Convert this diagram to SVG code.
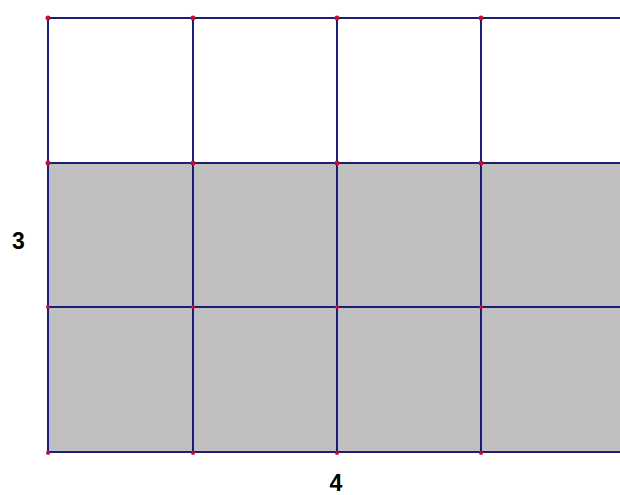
<svg xmlns="http://www.w3.org/2000/svg" width="620" height="495" viewBox="0 0 620 495">
<style>
.ln{stroke:#1c1c7a;stroke-width:2;fill:none}
.dot{fill:#c8102e}
.lbl{font-family:"Liberation Sans",Arial,sans-serif;font-weight:bold;font-size:23px;fill:#000}
</style>
<rect x="0" y="0" width="620" height="495" fill="#fff"/>
<g id="shaded">
<rect x="48" y="163" width="572" height="289" fill="#c0c0c0"/>
</g>
<g id="grid">
<line class="ln" x1="48" y1="18" x2="620" y2="18"/>
<line class="ln" x1="48" y1="163" x2="620" y2="163"/>
<line class="ln" x1="48" y1="307" x2="620" y2="307"/>
<line class="ln" x1="48" y1="452" x2="620" y2="452"/>
<line class="ln" x1="48" y1="18" x2="48" y2="452"/>
<line class="ln" x1="193" y1="18" x2="193" y2="452"/>
<line class="ln" x1="337" y1="18" x2="337" y2="452"/>
<line class="ln" x1="481" y1="18" x2="481" y2="452"/>
</g>
<g id="points">
<circle class="dot" cx="48" cy="18" r="2.5"/><circle class="dot" cx="193" cy="18" r="2.5"/><circle class="dot" cx="337" cy="18" r="2.5"/><circle class="dot" cx="481" cy="18" r="2.5"/>
<circle class="dot" cx="48" cy="163" r="2.5"/><circle class="dot" cx="193" cy="163" r="2.5"/><circle class="dot" cx="337" cy="163" r="2.5"/><circle class="dot" cx="481" cy="163" r="2.5"/>
<circle class="dot" cx="48" cy="307" r="2"/><circle class="dot" cx="193" cy="307" r="2"/><circle class="dot" cx="337" cy="307" r="2"/><circle class="dot" cx="481" cy="307" r="2"/>
<circle class="dot" cx="48" cy="453" r="2"/><circle class="dot" cx="193" cy="453" r="2"/><circle class="dot" cx="337" cy="453" r="2"/><circle class="dot" cx="481" cy="453" r="2"/>
</g>
<g id="labels">
<text class="lbl" x="18.5" y="249" text-anchor="middle">3</text>
<text class="lbl" x="336" y="491" text-anchor="middle">4</text>
</g>
</svg>
